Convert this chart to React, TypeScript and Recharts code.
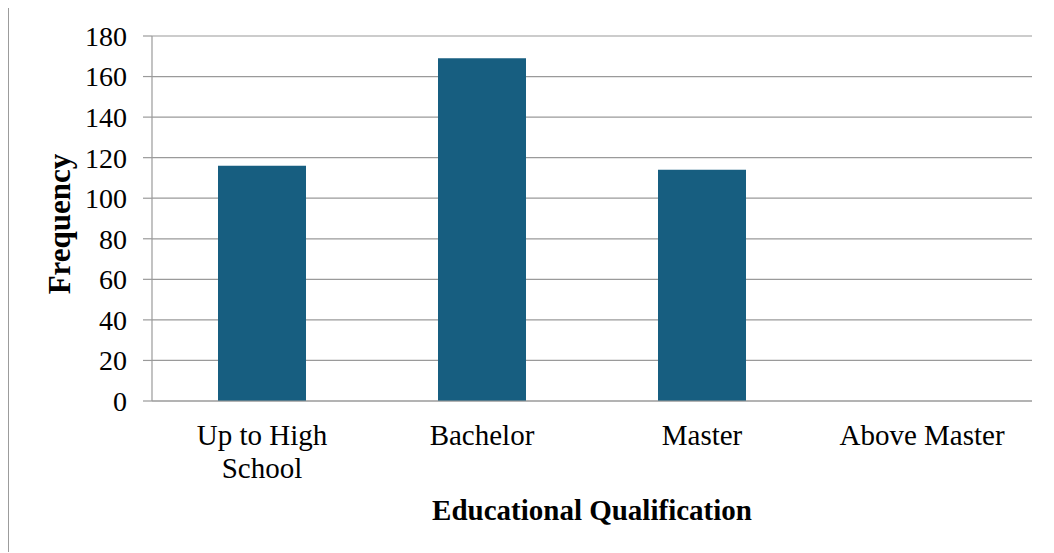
import { BarChart, Bar, CartesianGrid, XAxis, YAxis } from "recharts";

const categories = ["Up to High School", "Bachelor", "Master", "Above Master"];
const frequency = [116, 169, 114, 0];
const yTicks = [0, 20, 40, 60, 80, 100, 120, 140, 160, 180];

const data = categories.map((name, i) => ({ name, frequency: frequency[i] }));

const FONT = '"Liberation Serif", "Times New Roman", serif';
const GRID = "#9a9a9a";

// greedy word wrap for the category labels
function wrap(label: string, max = 12) {
  const lines: string[] = [];
  let cur = "";
  for (const w of label.split(" ")) {
    const next = cur ? cur + " " + w : w;
    if (next.length > max && cur) {
      lines.push(cur);
      cur = w;
    } else {
      cur = next;
    }
  }
  if (cur) lines.push(cur);
  return lines;
}

function CategoryTick(props: any) {
  const { x, y, payload } = props;
  const lines = wrap(String(payload.value));
  return (
    <text x={x} y={y + 44} textAnchor="middle" fontFamily={FONT} fontSize={29} fill="#000">
      {lines.map((l, i) => (
        <tspan key={i} x={x} dy={i === 0 ? 0 : 33}>
          {l}
        </tspan>
      ))}
    </text>
  );
}

export default function App() {
  return (
    <div
      style={{
        position: "relative",
        top: -1,
        width: 1046,
        height: 545,
        boxSizing: "border-box",
        borderLeft: "1px solid #9c9c9c",
        borderTop: "1px solid #9c9c9c",
        background: "#fff",
      }}
    >
      <BarChart
        width={1045}
        height={544}
        data={data}
        margin={{ top: 28, right: 22, left: 0, bottom: 0 }}
        barCategoryGap="30%"
      >
        <CartesianGrid vertical={false} stroke={GRID} strokeWidth={1.2} />
        <XAxis
          dataKey="name"
          height={151}
          axisLine={{ stroke: GRID, strokeWidth: 1.2 }}
          tickLine={false}
          tickSize={0}
          tickMargin={0}
          interval={0}
          tick={<CategoryTick />}
          label={{
            content: (p: any) => {
              const vb = p.viewBox || { x: 143, y: 393, width: 880, height: 151 };
              return (
                <text
                  x={vb.x + vb.width / 2}
                  y={vb.y + 119}
                  textAnchor="middle"
                  fontFamily={FONT}
                  fontSize={29}
                  fontWeight="bold"
                  fill="#000"
                >
                  Educational Qualification
                </text>
              );
            },
          }}
        />
        <YAxis
          width={143}
          domain={[0, 180]}
          ticks={yTicks}
          interval={0}
          axisLine={{ stroke: GRID, strokeWidth: 1.2 }}
          tickLine={{ stroke: GRID, strokeWidth: 1.2 }}
          tickSize={9}
          tickMargin={16}
          tick={{ fontFamily: FONT, fontSize: 28, fill: "#000" }}
          label={{
            content: (p: any) => {
              const vb = p.viewBox || { x: 0, y: 28, width: 143, height: 365 };
              const cx = vb.x + 61;
              const cy = vb.y + vb.height / 2 + 5.5;
              return (
                <text
                  transform={`translate(${cx},${cy}) rotate(-90)`}
                  textAnchor="middle"
                  fontFamily={FONT}
                  fontSize={31}
                  fontWeight="bold"
                  fill="#000"
                >
                  Frequency
                </text>
              );
            },
          }}
        />
        <Bar dataKey="frequency" fill="#175e80" isAnimationActive={false} />
      </BarChart>
    </div>
  );
}
